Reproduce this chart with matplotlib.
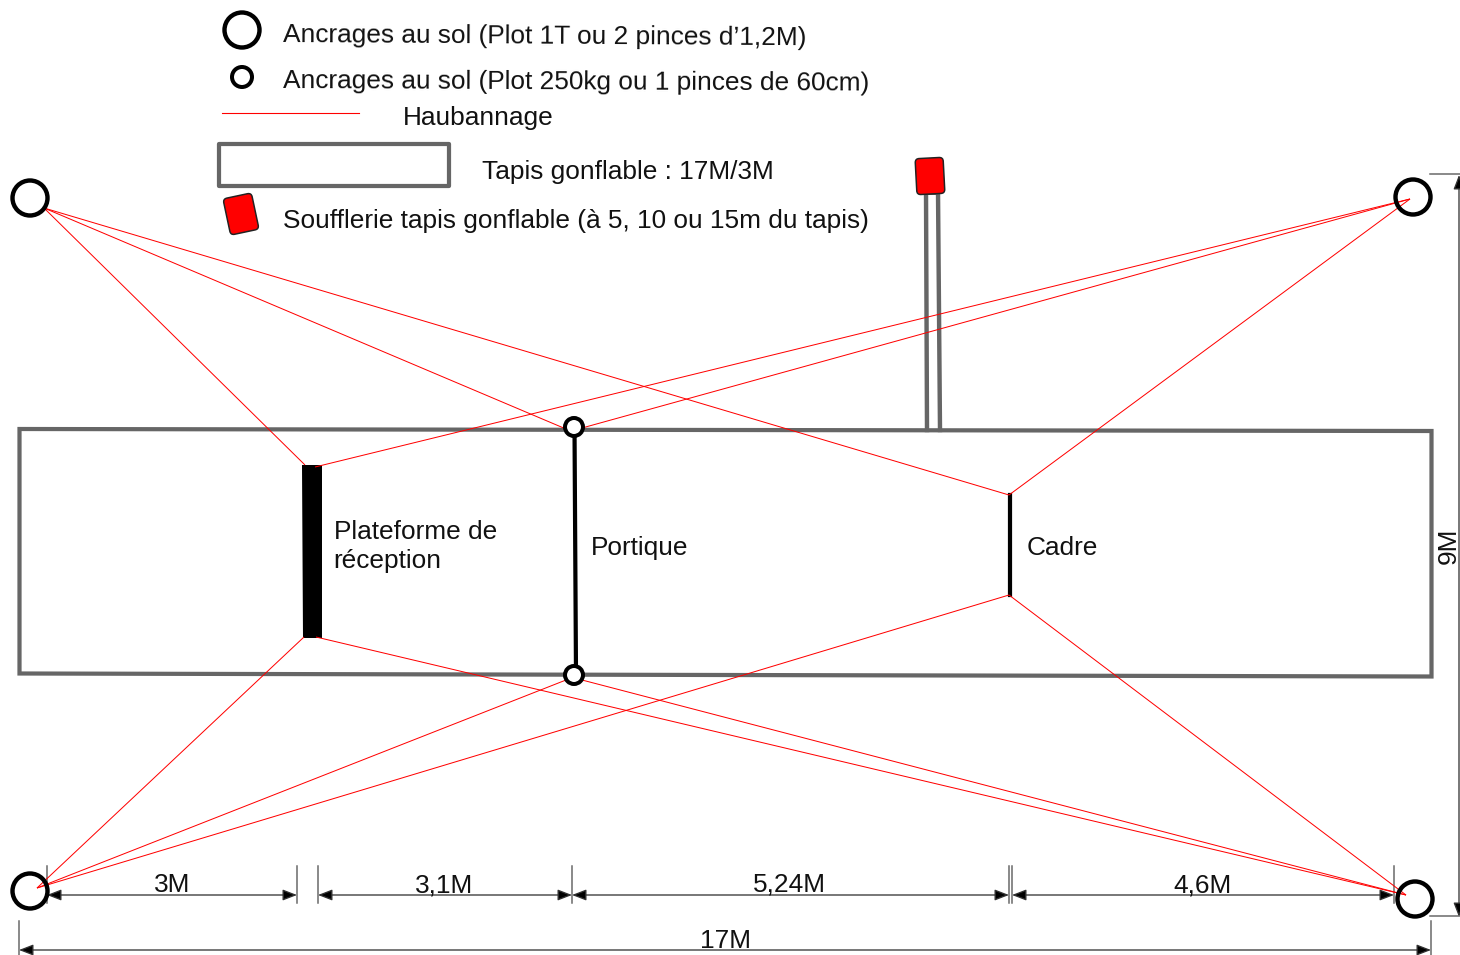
import matplotlib
matplotlib.use("Agg")
import matplotlib.pyplot as plt
from matplotlib.patches import Circle, FancyBboxPatch, Polygon
from matplotlib.transforms import Affine2D

plt.rcParams['font.family'] = ['Liberation Sans', 'DejaVu Sans']

GREY = '#666666'
RED = '#ff0000'
PX = 0.72  # one pixel in points at dpi 100
FS = 18.93

# --- content (pixel coordinates of the drawing)
big_anchors = [(30, 198), (1413, 197), (30, 891), (1415, 899), (242, 30)]
small_anchors = [(574, 427), (574, 675), (242, 77)]
small_radii = [9, 9, 10]
mat_outline = [(19.5, 429), (1431.5, 431), (1431.5, 676.5), (19.5, 673.5)]
platform = [(301.5, 465), (322, 465), (322, 638), (302.5, 638)]
portique = [(574.5, 427), (576, 675)]
cadre = [(1009.5, 495), (1009.5, 595)]
guy_lines = [
    ((44, 208), (305, 465)), ((44, 208), (566, 429)), ((44, 208), (1009, 495)),
    ((1410, 199), (315, 467)), ((1410, 199), (582, 428)), ((1410, 199), (1009, 495)),
    ((37, 888), (304, 637)), ((37, 888), (566, 680)), ((37, 888), (1009, 595)),
    ((1406, 895), (316, 637)), ((1406, 895), (582, 680)), ((1406, 895), (1009, 595)),
]
dim_segments = [(47, 297, '3M'), (318, 572, '3,1M'), (572, 1009, '5,24M'), (1012, 1394, '4,6M')]
dim_label_x = [172, 444, 789, 1202]
dim_label_y = [885, 885, 884, 885]
dim_ticks = [47, 297, 318, 572, 1009, 1012, 1394]
legend_texts = [
    (283, 35, 'Ancrages au sol (Plot 1T ou 2 pinces d’1,2M)', -0.35),
    (283, 81, 'Ancrages au sol (Plot 250kg ou 1 pinces de 60cm)', -0.25),
    (403, 118, 'Haubannage', 0),
    (482, 172, 'Tapis gonflable : 17M/3M', 0),
    (283, 221, 'Soufflerie tapis gonflable (à 5, 10 ou 15m du tapis)', 0),
]
part_labels = [
    (334, 532, 'Plateforme de'), (333.5, 561, 'réception'),
    (591, 547.5, 'Portique'), (1027, 547.5, 'Cadre'),
]

fig = plt.figure(figsize=(14.6, 9.55), dpi=100)
ax = fig.add_axes([0, 0, 1, 1])
ax.set_xlim(0, 1460)
ax.set_ylim(955, 0)
ax.axis('off')


def blower(cx, cy, w, h, angle):
    p = FancyBboxPatch((cx - w / 2 + 3, cy - h / 2 + 3), w - 6, h - 6,
                       boxstyle='round,pad=3,rounding_size=4', fc=RED, ec='#222222',
                       lw=1.5 * PX, zorder=6)
    p.set_transform(Affine2D().rotate_deg_around(cx, cy, angle) + ax.transData)
    ax.add_patch(p)


def dim(x0, y0, x1, y1):
    ax.annotate('', xy=(x1, y1), xytext=(x0, y0), zorder=3,
                arrowprops=dict(arrowstyle='<|-|>,head_length=0.62,head_width=0.24',
                                mutation_scale=14, shrinkA=0, shrinkB=0,
                                lw=1.3 * PX, color='#333333', fc='black'))


# mat and blower tubes
ax.add_patch(Polygon(mat_outline, closed=True, fc='none', ec=GREY, lw=4.2 * PX, zorder=2))
ax.plot([926, 927], [190, 430], color=GREY, lw=4.4 * PX, zorder=2)
ax.plot([938, 940], [190, 430], color=GREY, lw=4.4 * PX, zorder=2)
ax.plot([926, 938], [194, 194], color=GREY, lw=2 * PX, zorder=2)
blower(930, 176, 28, 36, -3)

# structures
ax.add_patch(Polygon(platform, closed=True, fc='black', ec='black', lw=0, zorder=3))
ax.plot(*zip(*portique), color='black', lw=4.2 * PX, zorder=3)
ax.plot(*zip(*cadre), color='black', lw=4.2 * PX, zorder=3)

# guy lines
for a, b in guy_lines:
    ax.plot([a[0], b[0]], [a[1], b[1]], color=RED, lw=1.0 * PX, zorder=4, solid_capstyle='butt')

# anchors
for c in big_anchors:
    ax.add_patch(Circle(c, 17.5, fc='none', ec='black', lw=4.4 * PX, zorder=5))
for c, r in zip(small_anchors, small_radii):
    ax.add_patch(Circle(c, r, fc='white', ec='black', lw=4 * PX, zorder=5))

# legend marks
ax.plot([222, 359], [113, 113], color=RED, lw=1.1 * PX, zorder=4)
ax.add_patch(FancyBboxPatch((218.5, 144), 230.5, 42, boxstyle='square,pad=0', fc='white',
                            ec=GREY, lw=4.2 * PX, joinstyle='round'))
blower(241, 214, 29, 37, -12)

# text
for x, y, s, rot in legend_texts:
    ax.text(x, y, s, fontsize=FS, color='#111111', ha='left', va='center',
            rotation=rot, rotation_mode='anchor')
for x, y, s in part_labels:
    ax.text(x, y, s, fontsize=FS, color='#111111', ha='left', va='center')

# dimensions
for x in dim_ticks:
    ax.plot([x, x], [866, 903], color=GREY, lw=1.5 * PX, zorder=3)
for (x0, x1, s), lx, ly in zip(dim_segments, dim_label_x, dim_label_y):
    dim(x0, 895, x1, 895)
    ax.text(lx, ly, s, fontsize=FS, color='#111111', ha='center', va='center', zorder=6)
dim(19, 950, 1431, 950)
for x in (19, 1431):
    ax.plot([x, x], [921, 955], color=GREY, lw=1.5 * PX, zorder=3)
ax.text(725, 941, '17M', fontsize=FS, color='#111111', ha='center', va='center', zorder=6)
dim(1459, 175, 1459, 917)
ax.plot([1430, 1460], [174, 174], color=GREY, lw=1.5 * PX, zorder=3)
ax.plot([1430, 1460], [916, 916], color=GREY, lw=1.5 * PX, zorder=3)
ax.text(1449, 546, '9M', fontsize=FS, color='#111111', ha='center', va='center', rotation=90)

fig.savefig('out.png', dpi=100, facecolor='white')
